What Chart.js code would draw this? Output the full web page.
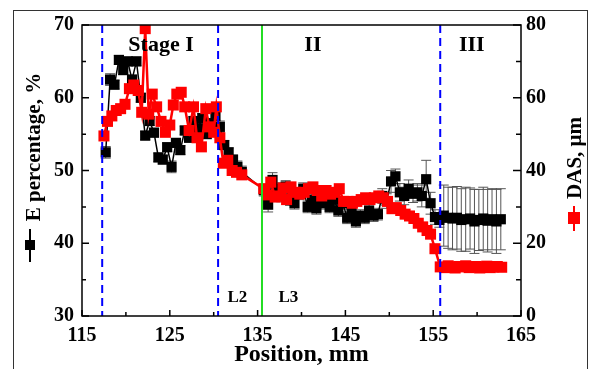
<!DOCTYPE html>
<html><head><meta charset="utf-8">
<script src="https://cdn.jsdelivr.net/npm/chart.js@4.4.0/dist/chart.umd.min.js"></script>
<style>html,body{margin:0;padding:0;background:#fff;}#wrap{width:590px;height:369px;}</style>
</head><body><div id="wrap"><canvas id="c" width="590" height="369"></canvas></div>
<script>
// ---- data ----
const ePos = [117.7,118.2,118.7,119.2,119.7,120.2,120.7,121.2,121.7,122.2,122.7,123.2,123.7,124.2,124.7,125.2,125.7,126.2,126.7,127.2,127.7,128.2,128.7,129.2,129.7,130.2,130.7,131.2,131.7,132.2,132.7,133.2,
135.7,136.2,136.7,137.2,137.7,138.2,138.7,139.2,139.7,140.2,140.7,141.2,141.7,142.2,142.7,143.2,143.7,144.2,144.7,145.2,145.7,146.2,146.7,147.2,147.7,148.2,148.7,149.2,149.7,150.2,150.7,151.2,151.7,152.2,152.7,153.2,153.7,154.2,154.7,155.2,155.7,
156.2,156.7,157.2,157.7,158.2,158.7,159.2,159.7,160.2,160.7,161.2,161.7,162.2,162.7];
const eVal = [52.5,62.5,61.8,65.2,63.8,65.0,62.5,65.0,60.0,54.8,56.8,55.2,51.8,51.5,53.2,50.5,53.8,52.8,55.5,54.5,56.8,55.8,57.2,55.0,56.5,57.5,56.0,53.5,52.5,51.5,50.5,49.8,
47.3,45.3,48.7,47.5,46.5,47.8,46.0,45.5,46.8,47.5,45.0,46.0,44.8,45.5,46.2,45.0,46.0,44.5,45.5,43.5,44.2,43.0,43.8,43.5,44.5,43.8,44.0,46.5,45.8,48.5,49.2,47.0,46.5,47.5,46.8,47.0,46.5,48.8,45.5,43.6,43.2,
43.8,43.5,43.4,43.5,43.2,43.3,43.4,43.0,43.2,43.4,43.1,43.3,43.0,43.3];
const eErr = [0.8,0.8,0.6,0.6,0.6,0.6,0.6,0.6,0.6,0.6,0.6,0.6,0.6,0.6,0.6,0.8,0.6,0.6,0.6,0.6,0.6,0.6,0.6,0.6,0.6,0.6,0.8,0.6,0.6,0.6,0.8,0.8,
0.8,1.0,1.0,0.8,0.8,0.8,0.8,0.8,0.8,0.8,0.8,0.8,0.8,0.8,0.8,0.8,0.8,0.8,0.8,0.8,0.8,0.8,0.8,0.8,0.8,0.8,0.8,1.0,1.0,1.5,1.0,1.2,1.2,1.2,1.2,1.2,1.5,2.6,1.5,1.0,1.0,
4.2,4.2,4.3,4.3,4.3,4.4,4.2,4.4,4.2,4.3,4.3,4.2,4.4,4.2];
const dasPos = [117.5,117.9,118.4,118.9,119.4,119.9,120.4,120.9,121.4,121.8,122.2,122.6,123.0,123.5,124.0,124.5,125.0,125.4,125.8,126.3,126.7,127.2,127.7,128.1,128.6,129.1,129.5,130.0,130.3,130.7,131.1,131.6,132.1,132.6,133.2,
135.7,136.1,136.5,137.0,137.5,137.9,138.3,138.8,139.3,139.8,140.3,140.8,141.3,141.8,142.3,142.8,143.3,143.8,144.3,144.8,145.3,145.8,146.3,146.8,147.3,147.8,148.3,148.8,149.3,149.8,150.3,150.8,151.3,151.8,152.3,152.8,153.3,153.8,154.3,154.7,155.2,
155.8,156.3,156.7,157.1,157.5,157.9,158.3,158.7,159.1,159.5,159.9,160.3,160.7,161.1,161.5,161.9,162.3,162.8];
const dasVal = [49.5,53.5,55.0,56.5,57.0,58.2,62.5,63.5,62.0,56.0,79.0,55.5,61.0,57.5,53.5,50.5,52.5,58.0,61.0,61.5,57.5,51.0,57.5,49.0,46.5,57.0,52.0,50.5,57.5,49.0,42.0,42.8,40.0,39.5,38.8,
35.0,33.3,36.8,32.7,33.0,35.2,32.0,35.5,34.0,33.5,34.0,35.0,35.5,34.5,33.0,34.5,33.5,34.0,35.0,31.5,31.5,31.0,31.5,32.0,32.5,32.0,32.5,33.0,32.5,31.5,29.5,29.8,29.0,28.0,27.5,26.8,25.5,24.5,23.5,22.5,18.5,
13.5,13.3,13.8,13.4,13.2,13.6,13.5,13.8,13.3,13.5,13.6,13.2,13.4,13.7,13.3,13.5,13.6,13.4];
const xTicks = [115,125,135,145,155,165];
const xMinor = [120,130,140,150,160];
const eTicks = [30,40,50,60,70];
const eMinor = [35,45,55,65];
const dasTicks = [0,20,40,60,80];
const dasMinor = [10,30,50,70];
const blueLines = [117.3,130.5,155.8];
const greenLines = [135.5];
const stageText = ['Stage I','II','III'];
const stageAt = [124.0,141.3,159.4];
const lText = ['L2','L3'];
const lAt = [132.7,138.5];

const SERIF = '"Liberation Serif","Times New Roman",serif';

const decor = {
  id:'decor',
  beforeDatasetsDraw(chart){
    const {ctx, chartArea:a, scales:{x,y}} = chart;
    ctx.save();
    ctx.beginPath(); ctx.rect(a.left,a.top,a.right-a.left,a.bottom-a.top); ctx.clip();
    ctx.strokeStyle='#555'; ctx.lineWidth=1;
    ePos.forEach((p,i)=>{
      const px=x.getPixelForValue(p);
      const t=y.getPixelForValue(eVal[i]+eErr[i]), b=y.getPixelForValue(eVal[i]-eErr[i]);
      ctx.beginPath();
      ctx.moveTo(px,t); ctx.lineTo(px,b);
      ctx.moveTo(px-5,t); ctx.lineTo(px+5,t);
      ctx.moveTo(px-5,b); ctx.lineTo(px+5,b);
      ctx.stroke();
    });
    ctx.restore();
  },
  afterDatasetsDraw(chart){
    const {ctx, chartArea:a, scales:{x}} = chart;
    ctx.save();
    ctx.lineWidth=2;
    ctx.strokeStyle='#0000ff'; ctx.setLineDash([8,5]);
    blueLines.forEach(v=>{const px=x.getPixelForValue(v); ctx.beginPath(); ctx.moveTo(px,a.top); ctx.lineTo(px,a.bottom); ctx.stroke();});
    ctx.setLineDash([]); ctx.strokeStyle='#22dd22';
    greenLines.forEach(v=>{const px=x.getPixelForValue(v); ctx.beginPath(); ctx.moveTo(px,a.top); ctx.lineTo(px,a.bottom); ctx.stroke();});
    ctx.restore();
  },
  afterDraw(chart){
    const {ctx, chartArea:a, scales:{x,y,y2}} = chart;
    ctx.save();
    ctx.strokeStyle='#000'; ctx.lineWidth=1.5;
    ctx.strokeRect(a.left,a.top,a.right-a.left,a.bottom-a.top);
    ctx.beginPath();
    const tx=(vals,len)=>vals.forEach(v=>{const p=x.getPixelForValue(v); ctx.moveTo(p,a.bottom); ctx.lineTo(p,a.bottom-len);});
    const ty=(vals,len)=>vals.forEach(v=>{const p=y.getPixelForValue(v); ctx.moveTo(a.left,p); ctx.lineTo(a.left+len,p);});
    const ty2=(vals,len)=>vals.forEach(v=>{const p=y2.getPixelForValue(v); ctx.moveTo(a.right,p); ctx.lineTo(a.right-len,p);});
    tx(xTicks,6); tx(xMinor,4); ty(eTicks,7); ty(eMinor,4); ty2(dasTicks,8); ty2(dasMinor,5);
    ctx.stroke();
    ctx.fillStyle='#000'; ctx.textAlign='center'; ctx.textBaseline='alphabetic';
    ctx.font='bold 22px '+SERIF;
    stageText.forEach((t,i)=>ctx.fillText(t, x.getPixelForValue(stageAt[i]), a.top+26));
    ctx.font='bold 17px '+SERIF;
    lText.forEach((t,i)=>ctx.fillText(t, x.getPixelForValue(lAt[i]), a.bottom-14));
    ctx.font='bold 21px '+SERIF;
    ctx.save(); ctx.translate(40,147); ctx.rotate(-Math.PI/2); ctx.fillText('E percentage, %',0,0); ctx.restore();
    ctx.save(); ctx.translate(581,158); ctx.rotate(-Math.PI/2); ctx.fillText('DAS, μm',0,0); ctx.restore();
    ctx.lineWidth=2;
    ctx.strokeStyle='#000'; ctx.beginPath(); ctx.moveTo(30,229); ctx.lineTo(30,262); ctx.stroke();
    ctx.fillStyle='#000'; ctx.fillRect(25,240,10,10);
    ctx.strokeStyle='#ff0000'; ctx.beginPath(); ctx.moveTo(574,206); ctx.lineTo(574,231); ctx.stroke();
    ctx.fillStyle='#ff0000'; ctx.fillRect(568,212,12,12);
    ctx.strokeStyle='#333'; ctx.lineWidth=1;
    ctx.strokeRect(13.5,10.5,574,400);
    ctx.restore();
  }
};

const tickFont = {family:SERIF, size:20, weight:'bold'};
new Chart(document.getElementById('c').getContext('2d'), {
  type:'scatter',
  data:{datasets:[
    {label:'DAS, μm', data:dasPos.map((p,i)=>({x:p,y:dasVal[i]})), yAxisID:'y2', showLine:true,
     borderColor:'#ff0000', backgroundColor:'#ff0000', borderWidth:2.5, pointStyle:'rect', pointRadius:7.8, pointBorderWidth:0, pointHoverRadius:7.8, order:0},
    {label:'E percentage, %', data:ePos.map((p,i)=>({x:p,y:eVal[i]})), yAxisID:'y', showLine:true,
     borderColor:'#000', backgroundColor:'#000', borderWidth:1.5, pointStyle:'rect', pointRadius:7.2, pointBorderWidth:0, pointHoverRadius:7.2, order:1}
  ]},
  options:{
    responsive:false, animation:false, devicePixelRatio:1,
    layout:{padding:{top:25,left:0,right:0,bottom:0}},
    plugins:{legend:{display:false}, tooltip:{enabled:false}},
    scales:{
      x:{type:'linear', min:115, max:165,
         afterBuildTicks:s=>{s.ticks=xTicks.map(v=>({value:v}));},
         grid:{display:false, drawTicks:false}, border:{display:false},
         ticks:{padding:8, font:tickFont, color:'#000', maxRotation:0, autoSkip:false},
         title:{display:true, text:'Position, mm', color:'#000', font:{family:SERIF,size:24,weight:'bold'}, padding:{top:0,bottom:0}},
         afterFit:s=>{s.height=53;}},
      y:{type:'linear', position:'left', min:30, max:70,
         afterBuildTicks:s=>{s.ticks=eTicks.map(v=>({value:v}));},
         grid:{display:false, drawTicks:false}, border:{display:false},
         ticks:{padding:8, font:tickFont, color:'#000', autoSkip:false},
         afterFit:s=>{s.width=82;}},
      y2:{type:'linear', position:'right', min:0, max:80,
         afterBuildTicks:s=>{s.ticks=dasTicks.map(v=>({value:v}));},
         grid:{display:false, drawTicks:false}, border:{display:false},
         ticks:{padding:5, font:tickFont, color:'#000', autoSkip:false},
         afterFit:s=>{s.width=69;}}
    }
  },
  plugins:[decor]
});
</script></body></html>
